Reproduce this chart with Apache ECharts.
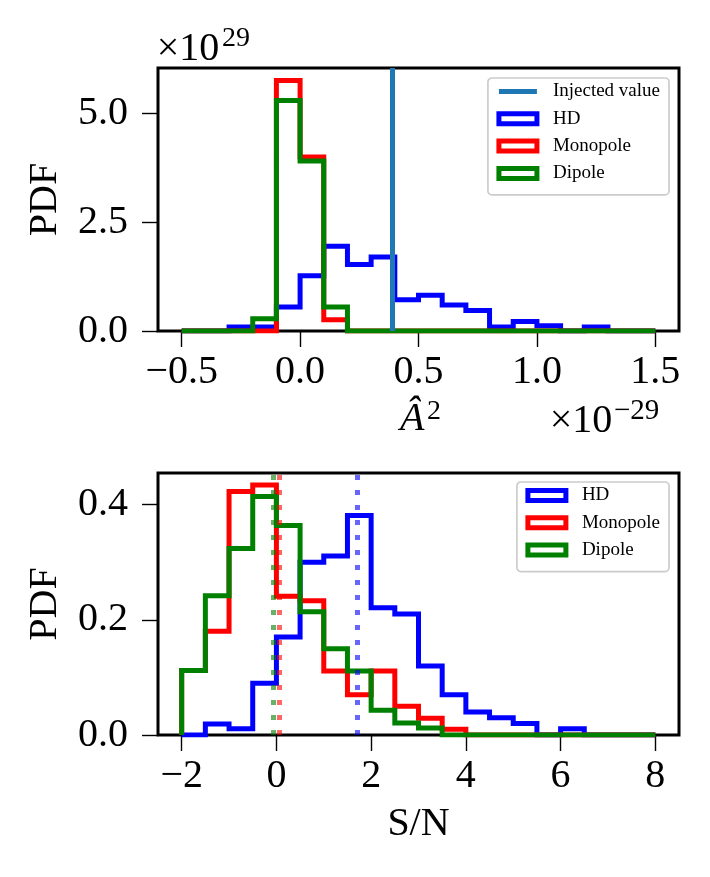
<!DOCTYPE html>
<html>
<head>
<meta charset="utf-8">
<script src="https://cdn.jsdelivr.net/npm/echarts@6.0.0/dist/echarts.min.js"></script>
<style>
  html, body { margin: 0; padding: 0; background: #fff; }
  #chart { width: 710px; height: 877px; }
</style>
</head>
<body>
<div id="chart"></div>
<script>
// top panel: amplitude estimate, x in units of 1e-29, pdf in units of 1e29
const ampEdges = [-0.5, -0.4, -0.3, -0.2, -0.1, 0.0, 0.1, 0.2, 0.3, 0.4, 0.5,
                  0.6, 0.7, 0.8, 0.9, 1.0, 1.1, 1.2, 1.3, 1.4, 1.5];
const ampHD = [0, 0, 0.09, 0.09, 0.55, 1.27, 1.95, 1.53, 1.70, 0.72,
               0.82, 0.60, 0.47, 0.09, 0.22, 0.12, 0, 0.09, 0, 0];
const ampMono = [0, 0, 0, 0, 5.76, 4.00, 0.26, 0, 0, 0,
                 0, 0, 0, 0, 0, 0, 0, 0, 0, 0];
const ampDip = [0, 0, 0, 0.28, 5.30, 3.91, 0.55, 0, 0, 0,
                0, 0, 0, 0, 0, 0, 0, 0, 0, 0];
const ampInjected = 0.394;
const ampTicks = [-0.5, 0.0, 0.5, 1.0, 1.5];
const ampPdfTicks = [0, 2.5, 5.0];

// bottom panel: S/N
const snrEdges = [-2, -1.5, -1, -0.5, 0, 0.5, 1, 1.5, 2, 2.5, 3,
                  3.5, 4, 4.5, 5, 5.5, 6, 6.5, 7, 7.5, 8];
const snrHD = [0, 0.019, 0.011, 0.090, 0.170, 0.300, 0.311, 0.381, 0.221, 0.210,
               0.120, 0.070, 0.040, 0.030, 0.020, 0, 0.011, 0, 0, 0];
const snrMono = [0.112, 0.180, 0.423, 0.434, 0.241, 0.233, 0.111, 0.070, 0.111, 0.050,
                 0.029, 0.010, 0, 0, 0, 0, 0, 0, 0, 0];
const snrDip = [0.112, 0.242, 0.324, 0.414, 0.364, 0.214, 0.150, 0.111, 0.043, 0.021,
                0.012, 0, 0, 0, 0, 0, 0, 0, 0, 0];
const snrMean = { HD: 1.71, Monopole: 0.05, Dipole: -0.07 };
const snrTicks = [-2, 0, 2, 4, 6, 8];
const snrPdfTicks = [0, 0.2, 0.4];

const colors = { HD: '#0000ff', Monopole: '#ff0000', Dipole: '#008000', 'Injected value': '#1f77b4' };
const serif = 'Liberation Serif';
const lw = 5;

const fmt = (v, d) => (v < 0 ? '\u2212' : '') + Math.abs(v).toFixed(d);

function stepLine(edges, heights) {
  const pts = [[edges[0], 0]];
  heights.forEach((h, i) => {
    pts.push([edges[i], h]);
    pts.push([edges[i + 1], h]);
  });
  pts.push([edges[edges.length - 1], 0]);
  return pts;
}

function histSeries(name, edges, heights, idx, mean) {
  const s = {
    name: name,
    type: 'line',
    xAxisIndex: idx,
    yAxisIndex: idx,
    data: stepLine(edges, heights),
    symbol: 'none',
    lineStyle: { color: colors[name], width: lw, join: 'miter', cap: 'butt' },
    itemStyle: { color: colors[name] },
    emphasis: { disabled: true },
  };
  if (mean !== undefined) {
    s.markLine = {
      silent: true,
      symbol: 'none',
      label: { show: false },
      lineStyle: { color: colors[name], type: [5, 10], width: lw, opacity: 0.6 },
      data: [{ xAxis: mean }],
    };
  }
  return s;
}

function xAxis(idx, min, max, ticks, digits) {
  return {
    gridIndex: idx, type: 'value', min: min, max: max,
    axisLine: { show: false, onZero: false },
    splitLine: { show: false },
    axisTick: { show: true, length: 16, customValues: ticks, lineStyle: { color: '#000', width: 1.4 } },
    axisLabel: {
      customValues: ticks, margin: 21, color: '#000', fontFamily: serif, fontSize: 40,
      formatter: v => fmt(v, digits),
    },
  };
}

function yAxis(idx, max, ticks) {
  return {
    gridIndex: idx, type: 'value', min: 0, max: max,
    axisLine: { show: false, onZero: false },
    splitLine: { show: false },
    axisTick: { show: true, length: 16, customValues: ticks, lineStyle: { color: '#000', width: 1.4 } },
    axisLabel: {
      customValues: ticks, margin: 30, color: '#000', fontFamily: serif, fontSize: 40,
      formatter: v => fmt(v, 1),
    },
  };
}

function rectItem(name) {
  return { name: name, icon: 'rect', itemStyle: { color: 'rgba(0,0,0,0)', borderColor: colors[name], borderWidth: lw } };
}

const legendBase = {
  orient: 'vertical', right: 41,
  itemWidth: 38, itemHeight: 10, itemGap: 8.3,
  padding: [4, 9, 12, 8.5],
  backgroundColor: 'rgba(255,255,255,0.8)',
  borderColor: '#cccccc', borderWidth: 1.7, borderRadius: 4,
  selectedMode: false,
  textStyle: { fontFamily: serif, fontSize: 19, color: '#000', lineHeight: 19, padding: [0, 0, 0, 11] },
};

const txt = (text, x, y, size, extra) => ({
  type: 'text', x: x, y: y, silent: true,
  style: Object.assign({ text: text, fill: '#000', fontFamily: serif, fontSize: size, align: 'left', verticalAlign: 'middle' }, extra || {}),
});

const chart = echarts.init(document.getElementById('chart'), null, { renderer: 'canvas' });
chart.setOption({
  animation: false,
  backgroundColor: '#fff',
  grid: [
    { left: 158, right: 31, top: 68, height: 263, show: true, borderColor: '#000', borderWidth: 3, backgroundColor: 'transparent' },
    { left: 158, right: 31, top: 473, height: 262, show: true, borderColor: '#000', borderWidth: 3, backgroundColor: 'transparent' },
  ],
  xAxis: [
    xAxis(0, -0.6, 1.6, ampTicks, 1),
    xAxis(1, -2.5, 8.5, snrTicks, 0),
  ],
  yAxis: [
    yAxis(0, 6.05, ampPdfTicks),
    yAxis(1, 0.455, snrPdfTicks),
  ],
  legend: [
    Object.assign({}, legendBase, {
      top: 78,
      data: [
        { name: 'Injected value', itemStyle: { color: 'rgba(0,0,0,0)', borderWidth: 0 },
          lineStyle: { color: colors['Injected value'], width: lw } },
        rectItem('HD'), rectItem('Monopole'), rectItem('Dipole'),
      ],
    }),
    Object.assign({}, legendBase, {
      top: 482,
      data: [rectItem('HD'), rectItem('Monopole'), rectItem('Dipole')],
    }),
  ],
  series: [
    {
      name: 'Injected value', type: 'line', xAxisIndex: 0, yAxisIndex: 0, data: [],
      symbol: 'none', lineStyle: { color: colors['Injected value'], width: lw },
      itemStyle: { color: colors['Injected value'] },
      markLine: {
        silent: true, symbol: 'none', label: { show: false },
        lineStyle: { color: colors['Injected value'], type: 'solid', width: lw },
        data: [{ xAxis: ampInjected }],
      },
    },
    histSeries('HD', ampEdges, ampHD, 0),
    histSeries('Monopole', ampEdges, ampMono, 0),
    histSeries('Dipole', ampEdges, ampDip, 0),
    histSeries('HD', snrEdges, snrHD, 1, snrMean.HD),
    histSeries('Monopole', snrEdges, snrMono, 1, snrMean.Monopole),
    histSeries('Dipole', snrEdges, snrDip, 1, snrMean.Dipole),
  ],
  graphic: [
    // offset labels and axis titles
    txt('\u00d710', 156.7, 49.2, 40),
    txt('29', 222, 38.3, 28),
    txt('\u00d710', 549.8, 421, 40),
    txt('\u221229', 614, 411, 29),
    txt('\u00c2', 400, 419.5, 40, { fontStyle: 'italic' }),
    txt('2', 427, 412, 28),
    txt('S/N', 418.5, 824.5, 40, { align: 'center' }),
    Object.assign(txt('PDF', 45, 199.5, 40, { align: 'center' }), { rotation: Math.PI / 2 }),
    Object.assign(txt('PDF', 45, 604, 40, { align: 'center' }), { rotation: Math.PI / 2 }),
  ],
});
</script>
</body>
</html>
